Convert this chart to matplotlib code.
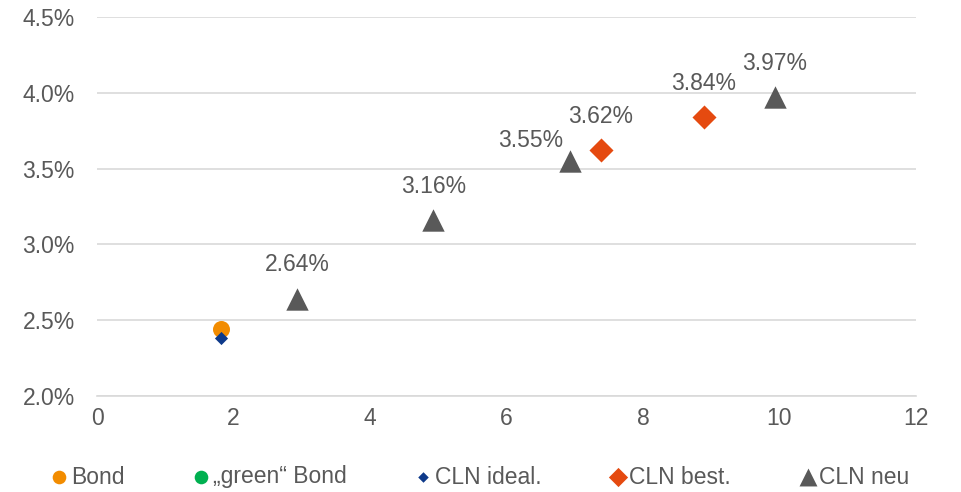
import matplotlib
matplotlib.use("Agg")
import matplotlib.pyplot as plt
from matplotlib.ticker import FuncFormatter

plt.rcParams['font.family'] = ['Liberation Sans', 'DejaVu Sans']

# Series: maturity (years) vs. yield (%)
bond_x = [1.82]
bond_y = [2.44]
green_x = []
green_y = []
ideal_x = [1.82]
ideal_y = [2.38]
best_x = [7.38, 8.89]
best_y = [3.62, 3.84]
neu_x = [2.93, 4.93, 6.93, 9.93]
neu_y = [2.64, 3.16, 3.55, 3.97]

series_names = ["Bond", "\u201egreen\u201c Bond", "CLN ideal.", "CLN best.", "CLN neu"]
x_ticks = [0, 2, 4, 6, 8, 10, 12]
y_ticks = [2.0, 2.5, 3.0, 3.5, 4.0, 4.5]

text_col = "#595959"
grid_col = "#D9D9D9"
fs = 16.5

fig = plt.figure(figsize=(9.61, 4.92), dpi=100)
ax = fig.add_axes([97 / 961, 1 - 396 / 492, (916 - 97) / 961, (396 - 17) / 492])

ax.scatter(bond_x, bond_y, s=150, marker="o", color="#F28C00", label=series_names[0], zorder=3, linewidths=0)
ax.scatter(green_x, green_y, s=150, marker="o", color="#00B050", label=series_names[1], zorder=3, linewidths=0)
ax.scatter(ideal_x, ideal_y, s=45, marker="D", color="#0E3A8A", label=series_names[2], zorder=4, linewidths=0)
ax.scatter(best_x, best_y, s=150, marker="D", color="#E54A10", label=series_names[3], zorder=3, linewidths=0)
ax.scatter(neu_x, neu_y, s=260, marker="^", color="#595959", label=series_names[4], zorder=3, linewidths=0)

# Value labels above the markers
for xs, ys in ((best_x, best_y), (neu_x, neu_y)):
    for x, y in zip(xs, ys):
        dx, dy = (0, 24.5)
        if abs(y - 3.55) < 1e-9:
            dx, dy = (-28, 15)
        ax.annotate(f"{y:.2f}%", (x, y), xytext=(dx, dy), textcoords="offset points",
                    ha="center", va="center", fontsize=fs, color=text_col)

ax.set_xlim(0, 12)
ax.set_ylim(2.0, 4.5)
ax.set_xticks(x_ticks)
ax.set_yticks(y_ticks)
ax.yaxis.set_major_formatter(FuncFormatter(lambda v, p: f"{v:.1f}%"))
ax.tick_params(length=0, labelsize=fs, labelcolor=text_col)
ax.tick_params(axis="y", pad=16)
ax.tick_params(axis="x", pad=8)
ax.grid(axis="y", color=grid_col, linewidth=1.2)
ax.set_axisbelow(True)
for s in ("top", "right", "left"):
    ax.spines[s].set_visible(False)
ax.spines["bottom"].set_color(grid_col)
ax.spines["bottom"].set_linewidth(1.2)

leg = fig.legend(loc="center", bbox_to_anchor=(0.5, 1 - 477 / 492), ncol=5, frameon=False,
                 fontsize=fs, handlelength=0.7, handletextpad=0.15, columnspacing=3.0,
                 markerscale=0.8, scatterpoints=1)
for t in leg.get_texts():
    t.set_color(text_col)

fig.savefig("out.png", dpi=100)
